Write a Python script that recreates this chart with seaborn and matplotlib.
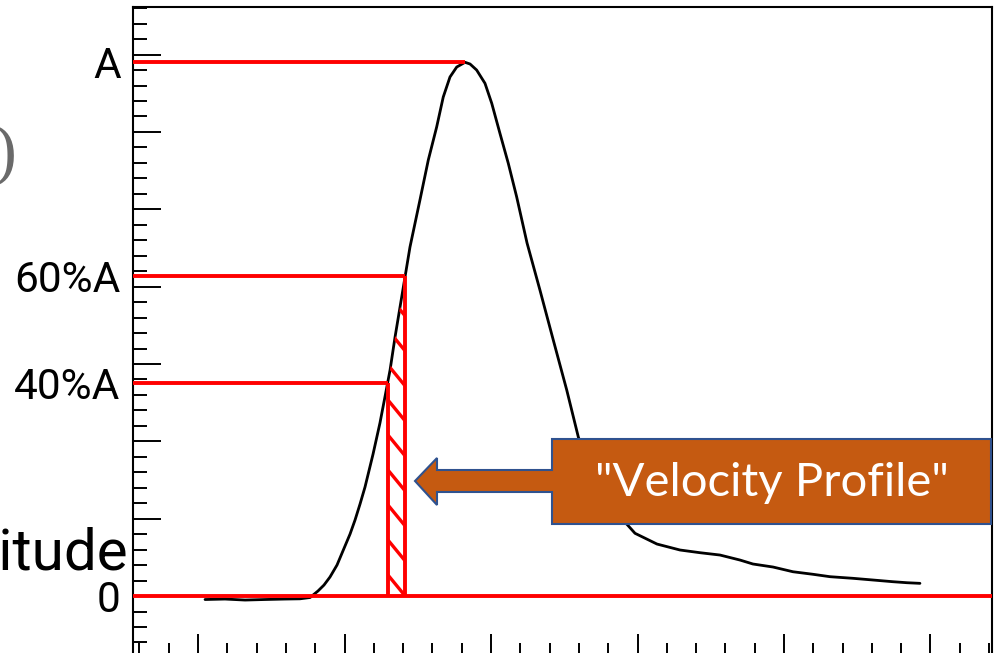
import numpy as np
import pandas as pd
import matplotlib
matplotlib.use("Agg")
import matplotlib.pyplot as plt
import matplotlib.transforms as mtransforms
from matplotlib.patches import Polygon
from matplotlib.ticker import MultipleLocator
import seaborn as sns

# Pulse waveform: sample time (ticks) and amplitude (axis units)
time = [10.48, 11.84, 13.21, 14.57, 15.94, 16.96, 17.65, 18.19, 18.60, 19.01,
        19.49, 19.92, 20.38, 20.72, 21.06, 21.40, 21.95, 22.42, 22.76, 23.11,
        23.45, 23.79, 24.13, 24.47, 25.15, 25.72, 26.29, 26.74, 27.20, 27.66,
        28.23, 28.57, 29.02, 29.59, 30.05, 30.61, 31.18, 31.75, 32.46, 33.34,
        34.25, 35.17, 35.96, 36.76, 37.78, 38.46, 39.28, 39.83, 41.33, 42.90,
        44.27, 45.63, 47.00, 47.88, 49.25, 50.61, 51.98, 53.14, 54.71, 56.08,
        57.44, 58.40, 59.28]
amplitude = [-0.045, -0.039, -0.052, -0.045, -0.039, -0.036, -0.019, 0.065, 0.142, 0.246,
             0.401, 0.595, 0.802, 0.983, 1.189, 1.409, 1.836, 2.237, 2.573, 2.922,
             3.348, 3.736, 4.124, 4.512, 5.120, 5.637, 6.063, 6.451, 6.710, 6.839,
             6.900, 6.878, 6.800, 6.628, 6.370, 5.982, 5.594, 5.162, 4.564, 3.956,
             3.310, 2.663, 2.056, 1.629, 1.241, 1.047, 0.927, 0.811, 0.672, 0.595,
             0.560, 0.530, 0.465, 0.414, 0.375, 0.314, 0.281, 0.250, 0.229, 0.207,
             0.185, 0.172, 0.164]

# Threshold levels as fractions of the peak amplitude A
level_fractions = [0.4, 0.6]
level_labels = ["0", "40%A", "60%A", "A"]
callout_text = '"Velocity Profile"'

RED = "#FF0000"
W, H, DPI = 1002, 653, 100
LABEL_FONT = ["Roboto", "DejaVu Sans"]

sns.set_theme(style="white")
plt.rcParams["font.family"] = ["Roboto", "DejaVu Sans"]

fig = plt.figure(figsize=(W / DPI, H / DPI), dpi=DPI)
fig.patch.set_facecolor("white")
ax = fig.add_axes([133 / W, -7 / H, 859 / W, 653 / H])
ax.set_facecolor("white")
ax.set_xlim(5.563, 64.198)
ax.set_ylim(-0.827, 7.615)

# pixel coordinates measured from the top-left corner of the figure
pix = mtransforms.Affine2D().scale(1 / W, -1 / H).translate(0, 1) + fig.transFigure

df = pd.DataFrame({"time": time, "amplitude": amplitude})
sns.lineplot(data=df, x="time", y="amplitude", estimator=None, sort=False,
             color="black", lw=2.0, ax=ax, zorder=3)
ax.set_xlabel("")
ax.set_ylabel("")

t = np.asarray(time)
a = np.asarray(amplitude)
i_peak = int(np.argmax(a))
A = a[i_peak]
t_peak = t[i_peak]

# leading edge (monotonic part) used to find where each level is crossed
i_start = int(np.argmax(a > 0))
rise_t = t[i_start:i_peak + 1]
rise_a = a[i_start:i_peak + 1]
lo_level, hi_level = (f * A for f in level_fractions)
t_lo = float(np.interp(lo_level, rise_a, rise_t))
t_hi = float(np.interp(hi_level, rise_a, rise_t))

x_left = ax.get_xlim()[0]
lw_red = 2.8
ax.axhline(0, color=RED, lw=lw_red, zorder=4)
ax.hlines([A, hi_level, lo_level], x_left, [t_peak, t_hi, t_lo],
          color=RED, lw=lw_red, zorder=4)
ax.vlines([t_lo, t_hi], 0, [lo_level, hi_level], color=RED, lw=lw_red, zorder=4)

# hatched band under the leading edge between the two level crossings
band_t = np.concatenate([[t_lo], t[(t > t_lo) & (t < t_hi)], [t_hi]])
band_a = np.interp(band_t, t, a)
region = ax.fill_between(band_t, 0, band_a, facecolor="none", edgecolor="none")
clip_path = region.get_paths()[0]
slope = -0.231
spacing = 0.4525
for k in range(0, int(hi_level / spacing) + 3):
    y0 = k * spacing
    xs = np.array([t_lo - 1.0, t_hi + 0.2])
    ys = y0 + slope * (xs - t_hi)
    ln, = ax.plot(xs, ys, color=RED, lw=2.4, zorder=4, solid_capstyle="butt")
    ln.set_clip_path(clip_path, ax.transData)

# axis frame and ticks
ax.xaxis.set_major_locator(MultipleLocator(10))
ax.xaxis.set_minor_locator(MultipleLocator(2))
ax.yaxis.set_major_locator(MultipleLocator(1))
ax.yaxis.set_minor_locator(MultipleLocator(0.2))
ax.tick_params(which="both", direction="in", left=True, bottom=True,
               top=False, right=False, labelleft=False, labelbottom=False,
               color="black", width=1.4)
ax.tick_params(axis="y", which="major", length=20)
ax.tick_params(axis="y", which="minor", length=10)
ax.tick_params(axis="x", which="major", length=18.5)
ax.tick_params(axis="x", which="minor", length=12)
for s in ax.spines.values():
    s.set_visible(True)
    s.set_color("black")
    s.set_linewidth(1.5)

sec = ax.secondary_yaxis("left")
sec.set_yticks([0, lo_level, hi_level, A], labels=level_labels)
sec.tick_params(length=0, pad=9, labelsize=30.5, labelcolor="black")
sec.spines["left"].set_visible(False)
for lbl in sec.get_yticklabels():
    lbl.set_family(LABEL_FONT)

# leftover axis title and bracket at the left margin
fig.text(128, 570, "Amplitude", transform=pix, ha="right", va="baseline",
         fontsize=42, family=LABEL_FONT, color="black")
fig.text(6, 158, ")", transform=pix, ha="center", va="center", fontsize=46,
         color="#5a5a5a", family="DejaVu Serif", alpha=0.9)

# left-arrow callout pointing at the hatched band
callout = Polygon([(415, 481), (437, 458), (437, 470), (552, 470), (552, 439),
                   (991, 439), (991, 524), (552, 524), (552, 492), (437, 492),
                   (437, 505)], closed=True, transform=pix, facecolor="#C55A11",
                  edgecolor="#2F528F", lw=1.5, zorder=6, clip_on=False)
fig.patches.append(callout)
fig.text(772, 483, callout_text, transform=pix, ha="center", va="center",
         fontsize=34, fontweight="normal", family=["Lato", "Roboto", "DejaVu Sans"],
         color="white", zorder=7)

fig.savefig("out.png", dpi=DPI)
